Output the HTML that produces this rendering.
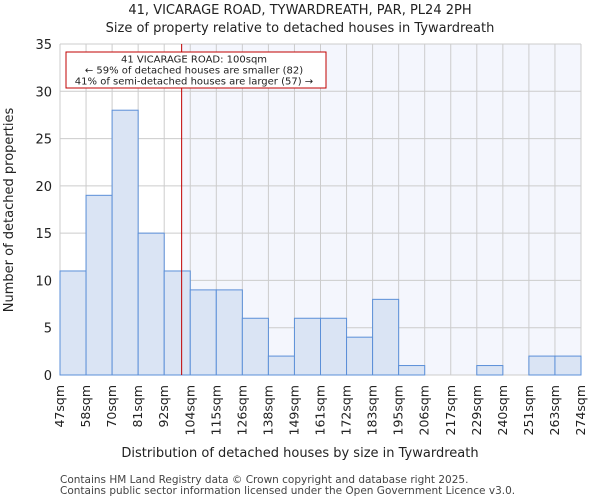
<!DOCTYPE html>
<html><head><meta charset="utf-8"><style>
body{margin:0;background:#fff;font-family:"DejaVu Sans","Liberation Sans",sans-serif}
</style></head><body>
<svg width="600" height="500" xmlns="http://www.w3.org/2000/svg" font-family="DejaVu Sans, Liberation Sans, sans-serif">
<g id="root"></g>
</svg>
<script>
const categories=["47sqm","58sqm","70sqm","81sqm","92sqm","104sqm","115sqm","126sqm","138sqm","149sqm","161sqm","172sqm","183sqm","195sqm","206sqm","217sqm","229sqm","240sqm","251sqm","263sqm","274sqm"];
const counts=[11,19,28,15,11,9,9,6,2,6,6,4,8,1,0,0,1,0,2,2];
const yTicks=[0,5,10,15,20,25,30,35];
const markerValue=100;
const binStart=47, binEnd=274;
const L=60,R=581,T=44,B=375,yMax=35;
const n=counts.length, bw=(R-L)/n;
const xs=i=>L+i*bw;
const ys=v=>B-(B-T)*v/yMax;
const xv=v=>L+(v-binStart)/(binEnd-binStart)*(R-L);
const root=document.getElementById('root');
const NS="http://www.w3.org/2000/svg";
function mk(tag,attrs,text){const e=document.createElementNS(NS,tag);for(const k in attrs)e.setAttribute(k,attrs[k]);if(text!=null)e.textContent=text;root.appendChild(e);return e;}
const mx=xv(markerValue);
let e;
e=mk('rect',{x:mx,y:T,width:R-mx,height:B-T,fill:'#f4f6fd'});


for(let i=0;i<=n;i++){e=mk('line',{x1:xs(i),x2:xs(i),y1:T,y2:B,stroke:'#cccccc','stroke-width':1});

}
yTicks.forEach(t=>{e=mk('line',{x1:L,x2:R,y1:ys(t),y2:ys(t),stroke:'#cccccc','stroke-width':1});


e=mk('text',{x:L-8,y:ys(t)+5,'text-anchor':'end','font-size':13,fill:'#222'},t);

});
counts.forEach((c,i)=>{if(c<=0)return;e=mk('rect',{x:xs(i),y:ys(c),width:bw,height:B-ys(c),fill:'#dae4f4',stroke:'#5b8fd8','stroke-width':1});

});
categories.forEach((c,i)=>{const x=xs(i)+4;e=mk('text',{x:x,y:385,transform:`rotate(-90 ${x} 385)`,'text-anchor':'end','font-size':12.5,fill:'#222'},c);

});
e=mk('line',{x1:mx,x2:mx,y1:T,y2:B,stroke:'#c00000','stroke-width':1});


e=mk('rect',{x:66,y:52,width:260,height:36,fill:'#fff',stroke:'#c00000','stroke-width':1});


["41 VICARAGE ROAD: 100sqm","← 59% of detached houses are smaller (82)","41% of semi-detached houses are larger (57) →"].forEach((s,k)=>{e=mk('text',{x:194,y:62.5+k*11,'text-anchor':'middle','font-size':10,fill:'#222'},s);

});
e=mk('text',{x:300,y:14,'text-anchor':'middle','font-size':13,fill:'#222'},"41, VICARAGE ROAD, TYWARDREATH, PAR, PL24 2PH");


e=mk('text',{x:300,y:32,'text-anchor':'middle','font-size':13,fill:'#222'},"Size of property relative to detached houses in Tywardreath");


e=mk('text',{x:300,y:457,'text-anchor':'middle','font-size':13,fill:'#222'},"Distribution of detached houses by size in Tywardreath");


e=mk('text',{x:13,y:210,transform:'rotate(-90 13 210)','text-anchor':'middle','font-size':13,fill:'#222'},"Number of detached properties");


e=mk('text',{x:60,y:483,'font-size':10.5,fill:'#444'},"Contains HM Land Registry data © Crown copyright and database right 2025.");


e=mk('text',{x:60,y:494,'font-size':10.5,fill:'#444'},"Contains public sector information licensed under the Open Government Licence v3.0.");


</script>
</body></html>
